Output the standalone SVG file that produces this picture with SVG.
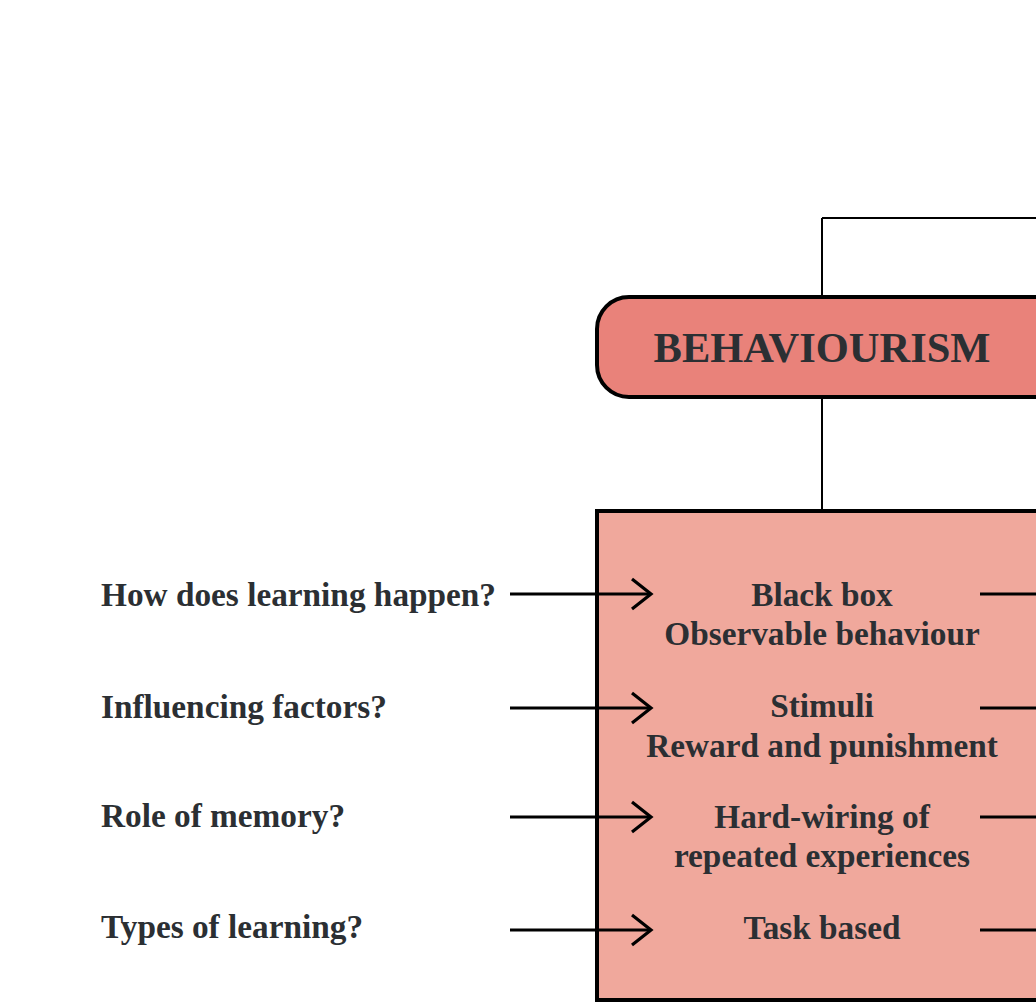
<svg xmlns="http://www.w3.org/2000/svg" width="1036" height="1003" viewBox="0 0 1036 1003">
<defs>
<marker id="chev" markerUnits="userSpaceOnUse" markerWidth="30" markerHeight="40" refX="20" refY="16" orient="auto" viewBox="0 0 30 32">
<path d="M1,1 L20,16 L1,31" fill="none" stroke="#000" stroke-width="3.2"/>
</marker>
</defs>
<style>
.t{font-family:"Liberation Serif","Times New Roman",serif;font-weight:bold;fill:#2b2f33;}
.lbl{font-size:33.3px;}
.mid{font-size:33.3px;text-anchor:middle;}
.arr{stroke:#000;stroke-width:3.2;fill:none;}
.thin{stroke:#000;stroke-width:2;fill:none;}
</style>
<rect width="1036" height="1003" fill="#fff"/>
<g id="connectors">
<path class="thin" d="M822,218 H1040 M822,218 V297"/>
<path class="thin" d="M822,397 V512"/>
</g>
<g id="behaviourism">
<rect x="597" y="297" width="480" height="100" rx="32" fill="#E9827A" stroke="#000" stroke-width="4"/>
<text class="t" x="822" y="362" font-size="42.5" text-anchor="middle">BEHAVIOURISM</text>
</g>
<g id="main-box">
<rect x="597" y="511" width="500" height="489" fill="#F0A89C" stroke="#000" stroke-width="4"/>
</g>
<g id="arrows">
<path class="arr" d="M510,594 H651" marker-end="url(#chev)"/>
<path class="arr" d="M510,708 H651" marker-end="url(#chev)"/>
<path class="arr" d="M510,817 H651" marker-end="url(#chev)"/>
<path class="arr" d="M510,930 H651" marker-end="url(#chev)"/>
<path class="arr" d="M980,594 H1040 M980,708 H1040 M980,817 H1040 M980,930 H1040"/>
</g>
<g id="q1"><text class="t lbl" x="101" y="606">How does learning happen?</text></g>
<g id="q2"><text class="t lbl" x="101" y="718">Influencing factors?</text></g>
<g id="q3"><text class="t lbl" x="101" y="827">Role of memory?</text></g>
<g id="q4"><text class="t lbl" x="101" y="938">Types of learning?</text></g>
<g id="a1"><text class="t mid" x="822" y="606">Black box</text><text class="t mid" x="822" y="645">Observable behaviour</text></g>
<g id="a2"><text class="t mid" x="822" y="717">Stimuli</text><text class="t mid" x="822" y="757">Reward and punishment</text></g>
<g id="a3"><text class="t mid" x="822" y="828">Hard-wiring of</text><text class="t mid" x="822" y="867">repeated experiences</text></g>
<g id="a4"><text class="t mid" x="822" y="939">Task based</text></g>
</svg>
